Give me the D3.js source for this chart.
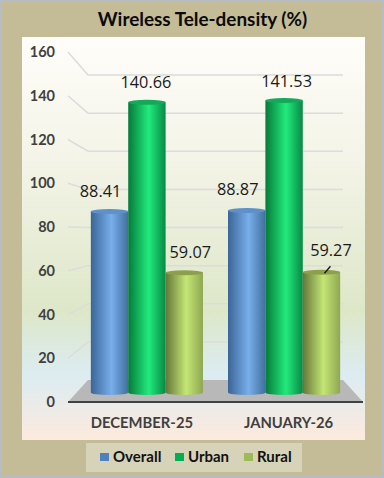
<!DOCTYPE html>
<html><head><meta charset="utf-8">
<script src="https://cdn.jsdelivr.net/npm/d3@7"></script>
<style>html,body{margin:0;padding:0;background:#c4bc96}svg{display:block}</style>
</head><body><svg id="c" width="384" height="478" font-family="Lato, sans-serif"></svg>
<script>
const categories = ["DECEMBER-25", "JANUARY-26"];
const seriesNames = ["Overall", "Urban", "Rural"];
const overall = [88.41, 88.87];
const urban = [140.66, 141.53];
const rural = [59.07, 59.27];
const yTicks = [0, 20, 40, 60, 80, 100, 120, 140, 160];
const titleText = "Wireless Tele-density (%)";
const seriesValues = [overall, urban, rural];

const svg = d3.select("#c");
const defs = svg.append("defs");
const W = 384, H = 478;

svg.append("rect").attr("width", W).attr("height", H).attr("fill", "#c4bc96");
svg.append("rect").attr("x", 1).attr("y", 1).attr("width", W - 2).attr("height", H - 2)
  .attr("fill", "none").attr("stroke", "#b7bcc2").attr("stroke-width", 2);

const bg = defs.append("linearGradient").attr("id", "bg").attr("x1", 0).attr("x2", 0).attr("y1", 0).attr("y2", 1);
[[0, "#fffdf9"], [.3, "#f4f4e8"], [.68, "#dde7c8"], [.84, "#dcecf2"], [1, "#fdeadd"]]
  .forEach(s => bg.append("stop").attr("offset", s[0]).attr("stop-color", s[1]));
svg.append("rect").attr("x", 22).attr("y", 37).attr("width", 343).attr("height", 403).attr("fill", "url(#bg)");

svg.append("text").attr("x", 202.5).attr("y", 26).attr("text-anchor", "middle")
  .attr("font-weight", 700).attr("font-size", 18.9).attr("fill", "#0a0a0a").text(titleText);

const frontY = d3.scaleLinear().domain([0, 160]).range([402, 52]);
const backY = d3.scaleLinear().domain([0, 160]).range([380, 75]);
const xFront = [68, 363], xBack = [88, 343];

const grid = svg.append("g").attr("fill", "none").attr("stroke", "#dcdcdc").attr("stroke-width", 1.5);
yTicks.filter(t => t > 0).forEach(t => {
  grid.append("path").attr("d", d3.line()([[xFront[0], frontY(t)], [xBack[0], backY(t)], [xBack[1], backY(t)]]));
});

svg.append("path").attr("fill", "#b8b8b8")
  .attr("d", d3.line()([[xFront[0], frontY(0)], [xBack[0], backY(0)], [xBack[1], backY(0)], [xFront[1], frontY(0)]]) + "Z");
svg.append("line").attr("x1", xFront[0]).attr("x2", xFront[1]).attr("y1", frontY(0)).attr("y2", frontY(0))
  .attr("stroke", "#404040").attr("stroke-width", 2);

const yAxisG = svg.append("g").attr("transform", "translate(55,0)")
  .call(d3.axisLeft(frontY).tickValues(yTicks).tickSize(0).tickPadding(0));
yAxisG.select(".domain").remove();
yAxisG.selectAll("text").attr("font-family", "Lato").attr("font-weight", 700).attr("font-size", 14.5).attr("fill", "#404040");

const x0 = d3.scaleBand().domain(categories).range([78.5, 352.5]).paddingInner(25 / 137).paddingOuter(0.09);
const x1 = d3.scaleBand().domain(seriesNames).range([0, x0.bandwidth()]);
const barY = d3.scaleLinear().domain([0, 160]).range([396, 62]);

const cols = {
  Overall: ["#3b6597", "#78aeea", "#41709f", "#5f90ca", "#4f81bd"],
  Urban: ["#067a3a", "#22ea7c", "#078a44", "#14a95a", "#00b050"],
  Rural: ["#657539", "#c4e674", "#8fa752", "#8d9f4c", "#9bbb59"]
};
seriesNames.forEach((n, i) => {
  const g = defs.append("linearGradient").attr("id", "g" + i);
  [[0, cols[n][0]], [.55, cols[n][1]], [1, cols[n][2]]].forEach(s => g.append("stop").attr("offset", s[0]).attr("stop-color", s[1]));
});

const ry = 2.5, baseCenter = 392.5;
const labelShift = [[[-9, 19.4], [-1, 19.4], [6, 19.2]], [[-9, 20.5], [2.5, 18.6], [9.5, 21.7]]];
const bars = svg.append("g"), labels = svg.append("g");
categories.forEach((c, ci) => {
  seriesNames.forEach((n, si) => {
    const v = seriesValues[si][ci];
    const bx = x0(c) + x1(n), bw = x1.bandwidth(), top = barY(v);
    bars.append("path").attr("fill", `url(#g${si})`)
      .attr("d", `M${bx},${top}V${baseCenter}A${bw / 2},${ry} 0 0 0 ${bx + bw},${baseCenter}V${top}Z`);
    bars.append("ellipse").attr("cx", bx + bw / 2).attr("cy", top).attr("rx", bw / 2).attr("ry", ry).attr("fill", cols[n][3]);
    const s = labelShift[ci][si];
    labels.append("text").attr("x", bx + bw / 2 + s[0]).attr("y", top - s[1] + 5)
      .attr("text-anchor", "middle").attr("font-family", "Open Sans").attr("font-size", 16.3).attr("fill", "#1a1a1a").text(v.toFixed(2));
    if (ci === 1 && si === 2) {
      labels.append("line").attr("x1", bx + bw / 2 + 3).attr("y1", top + 1).attr("x2", bx + bw / 2 + 9).attr("y2", top - 6)
        .attr("stroke", "#111").attr("stroke-width", 1.3);
    }
  });
});

const catShift = [-5, 4.5];
categories.forEach((c, i) => {
  svg.append("text").attr("x", x0(c) + x0.bandwidth() / 2 + catShift[i]).attr("y", 428).attr("text-anchor", "middle")
    .attr("font-weight", 700).attr("font-size", 14.8).attr("fill", "#404040").text(c);
});

svg.append("rect").attr("x", 86).attr("y", 443).attr("width", 216).attr("height", 29).attr("fill", "#d7d3b9");
const legX = [100, 175, 244];
seriesNames.forEach((n, i) => {
  svg.append("rect").attr("x", legX[i]).attr("y", 453).attr("width", 9).attr("height", 8).attr("fill", cols[n][4]);
  svg.append("text").attr("x", legX[i] + 13).attr("y", 462).attr("font-weight", 700).attr("font-size", 15).attr("fill", "#111").text(n);
});
</script></body></html>
